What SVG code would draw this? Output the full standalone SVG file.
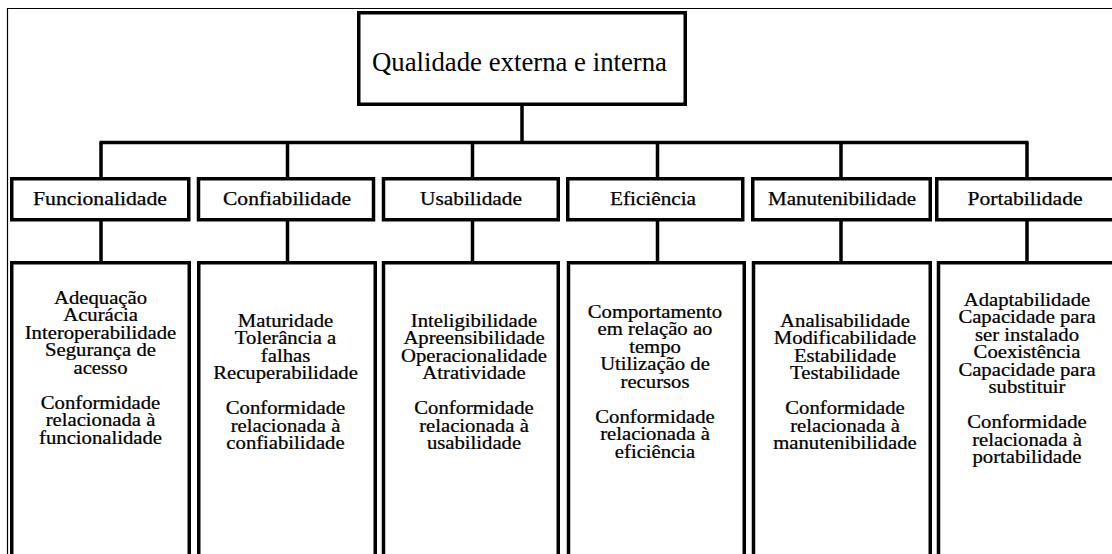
<svg xmlns="http://www.w3.org/2000/svg" width="1112" height="554" viewBox="0 0 1112 554">
<style>
.box{fill:#fff;stroke:#000;stroke-width:3.5}
.frame{fill:none;stroke:#000;stroke-width:1.2}
.con{fill:none;stroke:#000;stroke-width:3.5}
.t1{font-size:27px}
.t2{font-size:18px;stroke:#000;stroke-width:0.25}
.t3{font-size:18px;stroke:#000;stroke-width:0.25}
</style>
<rect width="1112" height="554" fill="#fff"/>
<path class="frame" d="M7.5 560 V8.5 H1120"/>
<g id="connectors">
<path class="con" d="M522 105 V142.5 M99.5 142.5 H1028.5"/>
<path class="con" d="M101 142.5 V178 M287.5 142.5 V178 M472.5 142.5 V178 M657.5 142.5 V178 M841 142.5 V178 M1027 142.5 V178"/>
<path class="con" d="M101 221 V262 M287.5 221 V262 M472.5 221 V262 M657.5 221 V262 M841 221 V262 M1027 221 V262"/>
</g>
<g font-family="Liberation Serif, DejaVu Serif, serif" text-anchor="middle" fill="#000">
<g id="root">
<rect class="box" x="358.75" y="12.75" width="326.5" height="91.5"/>
<text class="t1" x="519.5" y="71" textLength="295" lengthAdjust="spacingAndGlyphs">Qualidade externa e interna</text>
</g>
<g id="funcionalidade">
<rect class="box" x="11.75" y="178.75" width="177" height="41"/>
<text class="t2" x="100" y="205" textLength="134" lengthAdjust="spacingAndGlyphs">Funcionalidade</text>
</g>
<g id="confiabilidade">
<rect class="box" x="198.5" y="178.75" width="175" height="41"/>
<text class="t2" x="287" y="205" textLength="128" lengthAdjust="spacingAndGlyphs">Confiabilidade</text>
</g>
<g id="usabilidade">
<rect class="box" x="383.5" y="178.75" width="174.75" height="41"/>
<text class="t2" x="471" y="205" textLength="102" lengthAdjust="spacingAndGlyphs">Usabilidade</text>
</g>
<g id="eficiencia">
<rect class="box" x="567.75" y="178.75" width="175" height="41"/>
<text class="t2" x="653" y="205" textLength="86" lengthAdjust="spacingAndGlyphs">Eficiência</text>
</g>
<g id="manutenibilidade">
<rect class="box" x="752.75" y="178.75" width="177.5" height="41"/>
<text class="t2" x="842" y="205" textLength="148" lengthAdjust="spacingAndGlyphs">Manutenibilidade</text>
</g>
<g id="portabilidade">
<rect class="box" x="936.75" y="178.75" width="185" height="41"/>
<text class="t2" x="1025" y="205" textLength="115" lengthAdjust="spacingAndGlyphs">Portabilidade</text>
</g>
<g id="sub-funcionalidade">
<rect class="box" x="11.75" y="262.75" width="177.5" height="300"/>
<text class="t3" transform="translate(100.5 0) scale(1.15 1)"><tspan x="0" y="304">Adequação</tspan><tspan x="0" dy="17.5">Acurácia</tspan><tspan x="0" dy="17.5">Interoperabilidade</tspan><tspan x="0" dy="17.5">Segurança de</tspan><tspan x="0" dy="17.5">acesso</tspan><tspan x="0" dy="35">Conformidade</tspan><tspan x="0" dy="17.5">relacionada à</tspan><tspan x="0" dy="17.5">funcionalidade</tspan></text>
</g>
<g id="sub-confiabilidade">
<rect class="box" x="198.75" y="262.75" width="176.5" height="300"/>
<text class="t3" transform="translate(285.5 0) scale(1.15 1)"><tspan x="0" y="327">Maturidade</tspan><tspan x="0" dy="17.5">Tolerância a</tspan><tspan x="0" dy="17.5">falhas</tspan><tspan x="0" dy="17.5">Recuperabilidade</tspan><tspan x="0" dy="35">Conformidade</tspan><tspan x="0" dy="17.5">relacionada à</tspan><tspan x="0" dy="17.5">confiabilidade</tspan></text>
</g>
<g id="sub-usabilidade">
<rect class="box" x="383.5" y="262.75" width="174.75" height="300"/>
<text class="t3" transform="translate(474 0) scale(1.15 1)"><tspan x="0" y="327">Inteligibilidade</tspan><tspan x="0" dy="17.5">Apreensibilidade</tspan><tspan x="0" dy="17.5">Operacionalidade</tspan><tspan x="0" dy="17.5">Atratividade</tspan><tspan x="0" dy="35">Conformidade</tspan><tspan x="0" dy="17.5">relacionada à</tspan><tspan x="0" dy="17.5">usabilidade</tspan></text>
</g>
<g id="sub-eficiencia">
<rect class="box" x="568.5" y="262.75" width="175.75" height="300"/>
<text class="t3" transform="translate(655 0) scale(1.15 1)"><tspan x="0" y="318">Comportamento</tspan><tspan x="0" dy="17.5">em relação ao</tspan><tspan x="0" dy="17.5">tempo</tspan><tspan x="0" dy="17.5">Utilização de</tspan><tspan x="0" dy="17.5">recursos</tspan><tspan x="0" dy="35">Conformidade</tspan><tspan x="0" dy="17.5">relacionada à</tspan><tspan x="0" dy="17.5">eficiência</tspan></text>
</g>
<g id="sub-manutenibilidade">
<rect class="box" x="753.5" y="262.75" width="176.75" height="300"/>
<text class="t3" transform="translate(845 0) scale(1.15 1)"><tspan x="0" y="327">Analisabilidade</tspan><tspan x="0" dy="17.5">Modificabilidade</tspan><tspan x="0" dy="17.5">Estabilidade</tspan><tspan x="0" dy="17.5">Testabilidade</tspan><tspan x="0" dy="35">Conformidade</tspan><tspan x="0" dy="17.5">relacionada à</tspan><tspan x="0" dy="17.5">manutenibilidade</tspan></text>
</g>
<g id="sub-portabilidade">
<rect class="box" x="938.5" y="262.75" width="185" height="300"/>
<text class="t3" transform="translate(1027 0) scale(1.15 1)"><tspan x="0" y="306">Adaptabilidade</tspan><tspan x="0" dy="17.5">Capacidade para</tspan><tspan x="0" dy="17.5">ser instalado</tspan><tspan x="0" dy="17.5">Coexistência</tspan><tspan x="0" dy="17.5">Capacidade para</tspan><tspan x="0" dy="17.5">substituir</tspan><tspan x="0" dy="35">Conformidade</tspan><tspan x="0" dy="17.5">relacionada à</tspan><tspan x="0" dy="17.5">portabilidade</tspan></text>
</g>
</g>
</svg>
